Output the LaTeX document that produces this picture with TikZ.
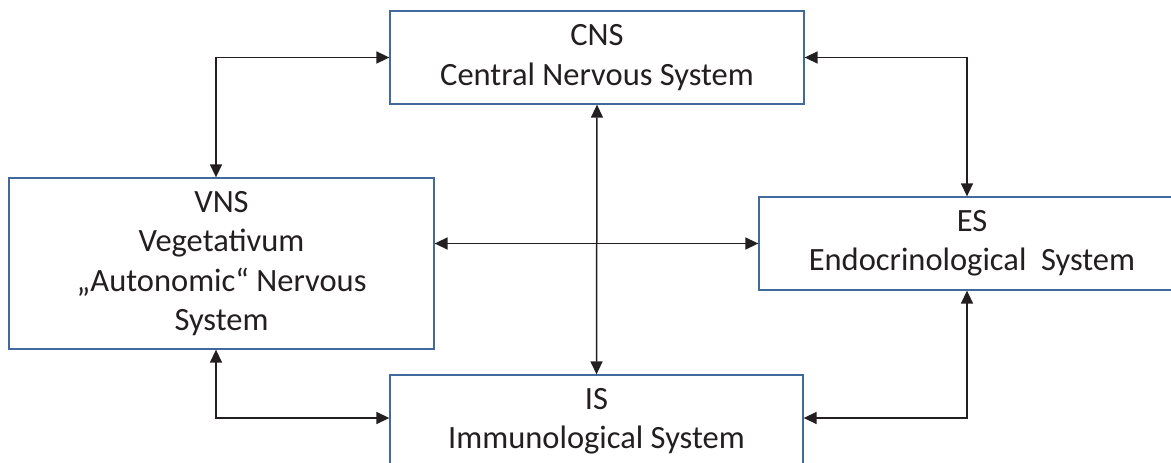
\documentclass[tikz,border=0pt]{standalone}
\usepackage{fontspec}
\setmainfont{Carlito}
\usetikzlibrary{arrows.meta, positioning, calc}
\definecolor{boxblue}{RGB}{65,105,155}
\definecolor{inkgray}{RGB}{35,31,32}

\begin{document}
\begin{tikzpicture}[
  x=1pt, y=-1pt,
  system/.style={draw=boxblue, line width=1.3pt, fill=white, align=center, inner sep=0pt,
    text=inkgray, font=\fontsize{32.5}{39.3}\selectfont},
  link/.style={{Triangle[length=13pt, width=12pt]}-{Triangle[length=13pt, width=12pt]}, line width=1.5pt, color=inkgray}
]
\useasboundingbox (0,0) rectangle (1171,463);
\clip (0,0) rectangle (1171,463);

% Nodes with align=center so \\ works
\node[system, minimum width=414pt, minimum height=93pt] (cns) at (597,57.5) {CNS\\Central Nervous System};
\node[system, minimum width=425pt, minimum height=171pt] (vns) at (221.5,263.5) {VNS\\Vegetativum\\„Autonomic“ Nervous\\System};
\node[system, minimum width=426pt, minimum height=93pt] (es) at (972,243.5) {ES\\Endocrinological~ System};
\node[system, minimum width=413pt, minimum height=93pt] (is) at (596.5,421.5) {IS\\Immunological System};

% Arrows
\draw[link] ([xshift=-5.5pt]vns.north) |- (cns.west);
\draw[link] (cns.east) -| ([xshift=-5pt]es.north);
\draw[link] (cns.south) -- (is.north);
\draw[link] (es.west -| vns.east) -- (es.west);
\draw[link] ([xshift=-5.5pt]vns.south) |- ([yshift=3.5pt]is.west);
\draw[link] ([xshift=-5pt]es.south) |- ([yshift=3.5pt]is.east);

\end{tikzpicture}
\end{document}
